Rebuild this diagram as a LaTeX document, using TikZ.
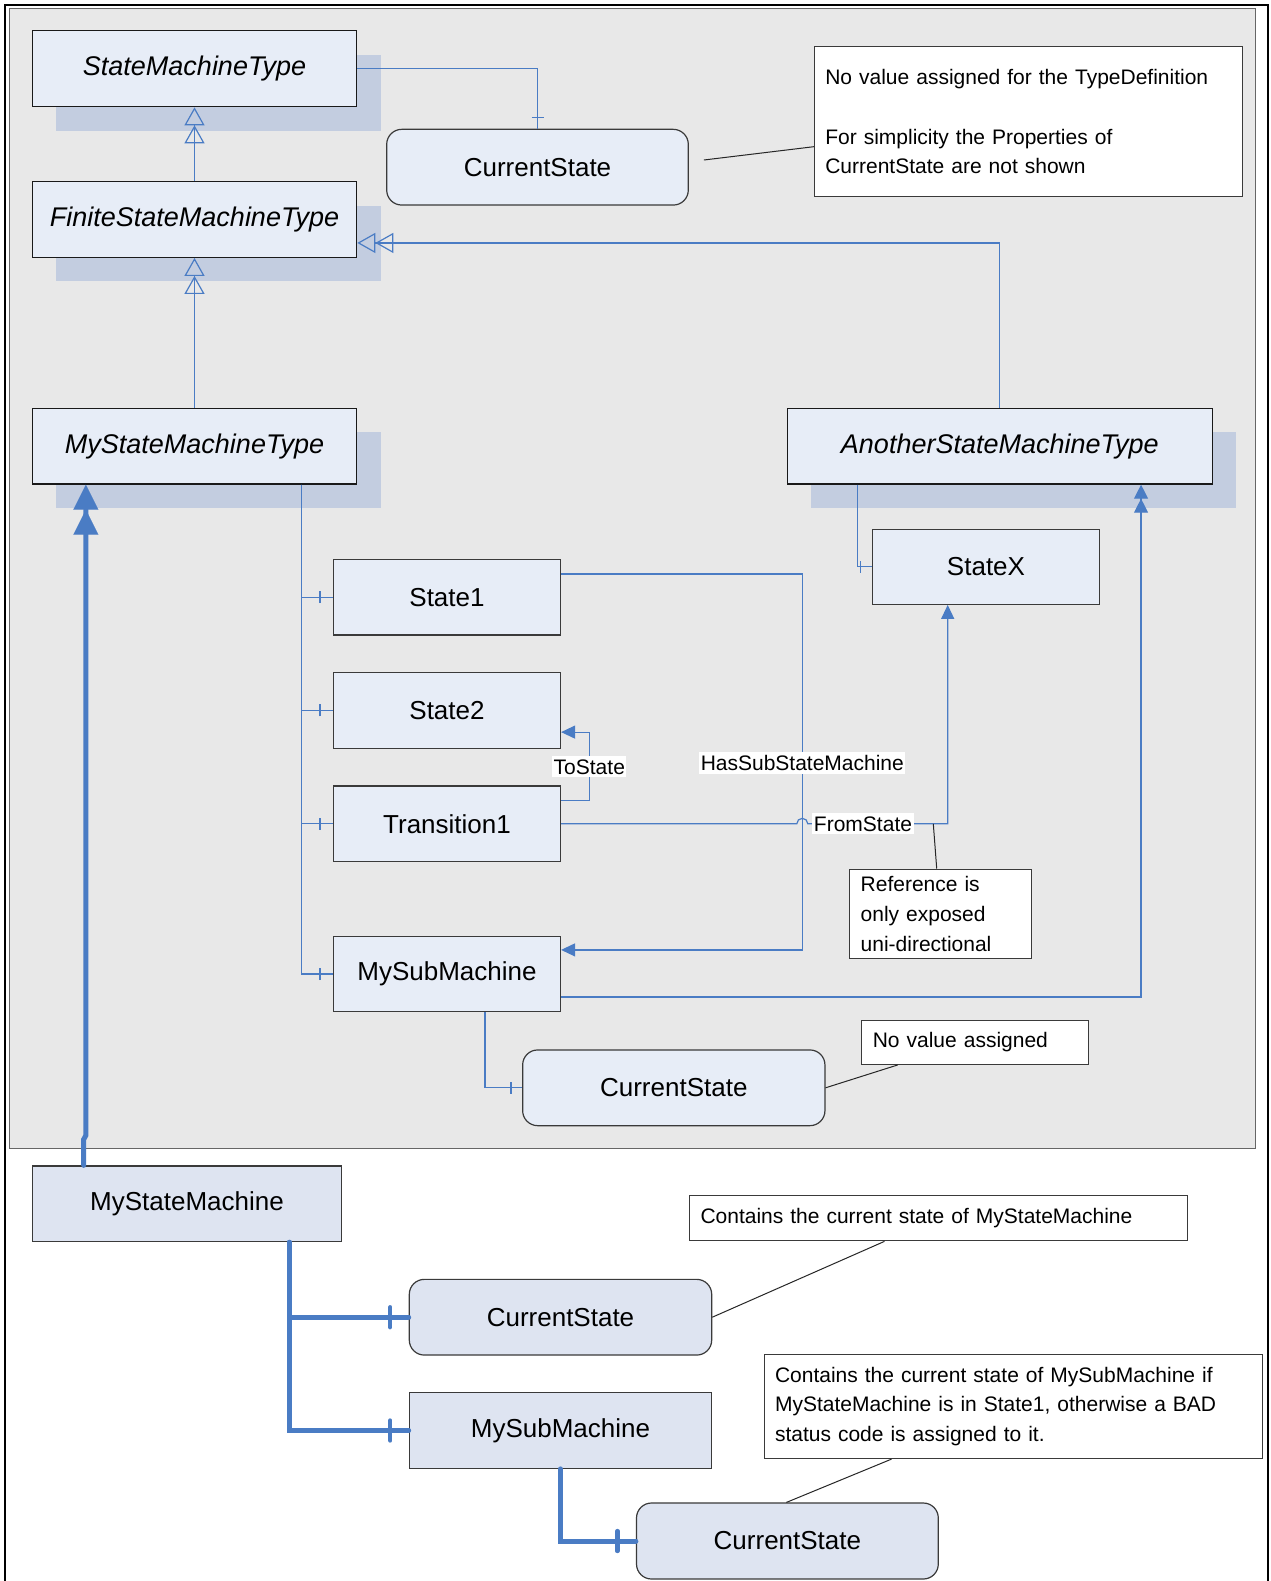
\documentclass[tikz,border=0pt]{standalone}
\usepackage{fontspec}
\setmainfont{Liberation Sans}
\usetikzlibrary{arrows.meta,calc,shadows,decorations.markings}
\definecolor{panel}{HTML}{E8E8E8}
\definecolor{boxfill}{HTML}{E7EDF7}
\definecolor{boxfilltwo}{HTML}{DEE4F1}
\definecolor{shadowc}{HTML}{C3CDE0}
\definecolor{lblue}{HTML}{4A7CC4}
\definecolor{bord}{HTML}{3A3A3A}
\tikzset{
  typebox/.style={draw=black!90, line width=1.3pt, fill=boxfill, inner sep=0pt,
    font=\fontsize{27}{30}\selectfont\itshape,
    general shadow={shadow xshift=24pt, shadow yshift=-24pt, fill=shadowc}},
  plainbox/.style={draw=bord, line width=1.2pt, fill=boxfill, inner sep=0pt,
    font=\fontsize{26}{30}\selectfont},
  roundbox/.style={plainbox, rounded corners=15pt},
  notebox/.style={draw=bord, line width=1pt, fill=white, inner xsep=11pt, inner ysep=0pt,
    align=left, font=\fontsize{21}{29.7}\selectfont},
  lbl/.style={fill=white, inner xsep=1.5pt, inner ysep=3pt, font=\fontsize{21}{25}\selectfont},
  conn/.style={draw=lblue, line width=1.2pt},
  thickconn/.style={draw=lblue, line width=5pt, line cap=round},
  noteline/.style={draw=black!85, line width=1pt},
  inh/.style={conn, -{Triangle[open,length=18pt,width=20pt,sep=0pt]Triangle[open,length=18pt,width=20pt,sep=0pt]}},
  tri/.style={-{Triangle[length=14pt,width=13pt]}},
  dbltri/.style={-{Triangle[length=14pt,width=14pt,sep=0pt]Triangle[length=14pt,width=14pt,sep=0pt]}},
  bigdbltri/.style={-{Triangle[length=25pt,width=25pt,sep=0pt,line width=0.1pt]Triangle[length=25pt,width=25pt,sep=0pt,line width=0.1pt]}},
  tickend/.style={postaction={decorate,decoration={markings,
    mark=at position -#1 with {\draw[lblue,line width=1.2pt,line cap=butt] (0pt,-6pt) -- (0pt,6pt);}}}},
  thicktick/.style={postaction={decorate,decoration={markings,
    mark=at position -#1 with {\draw[lblue,line width=4.3pt,line cap=round] (0pt,-10pt) -- (0pt,10pt);}}}}
}
\begin{document}
\begin{tikzpicture}[x=1pt,y=-1pt]
\useasboundingbox (0,0) rectangle (1270,1581);
% frame and panel
\fill[white] (0,0) rectangle (1270,1581);
\draw[black, line width=2.5pt] (5,1582) -- (5,5) -- (1268,5) -- (1268,1582);
\draw[draw=black!60, fill=panel, line width=1pt] (9.5,8.5) rectangle (1255,1148);

% type boxes
\node[typebox, minimum width=324.4pt, minimum height=76pt] (smt) at (194.5,68.7) {StateMachineType};
\node[typebox, minimum width=324.4pt, minimum height=75.6pt] (fsmt) at (194.5,219.5) {FiniteStateMachineType};
\node[typebox, minimum width=324.4pt, minimum height=75.7pt] (msmt) at (194.5,446.2) {MyStateMachineType};
\node[typebox, minimum width=425pt, minimum height=75.7pt] (asmt) at (999.8,446.2) {AnotherStateMachineType};

% instance declarations
\node[roundbox, minimum width=301.6pt, minimum height=75.7pt] (cs1) at (537.5,167.2) {CurrentState};
\node[plainbox, minimum width=226.6pt, minimum height=75pt] (statex) at (986,566.8) {StateX};
\node[plainbox, minimum width=227pt, minimum height=75.6pt] (state1) at (447,597.2) {State1};
\node[plainbox, minimum width=227pt, minimum height=75.6pt] (state2) at (447,710.3) {State2};
\node[plainbox, minimum width=227pt, minimum height=75.6pt] (trans1) at (447,823.8) {Transition1};
\node[plainbox, minimum width=227pt, minimum height=75.2pt] (msub) at (447,974) {MySubMachine};
\node[roundbox, minimum width=302.3pt, minimum height=75.7pt] (cs2) at (673.8,1087.8) {CurrentState};

% notes
\node[notebox, text width=406pt, minimum width=428pt, minimum height=150pt] (note1) at (1028.3,121.7)
  {No value assigned for the TypeDefinition\\[30pt]For simplicity the Properties of\\CurrentState are not shown};
\node[notebox, text width=204.8pt, minimum width=226.8pt, minimum height=44.4pt] (note2) at (975.2,1042.2) {No value assigned};
\node[notebox, text width=159.5pt, minimum width=181.5pt, minimum height=89.6pt] (note3) at (940.4,913.8)
  {Reference is\\only exposed\\uni-directional};

% bottom instance
\node[plainbox, fill=boxfilltwo, minimum width=309.4pt, minimum height=75.7pt] (msm) at (187,1203.8) {MyStateMachine};
\node[roundbox, fill=boxfilltwo, minimum width=302.4pt, minimum height=75.7pt] (cs3) at (560.5,1317.2) {CurrentState};
\node[plainbox, fill=boxfilltwo, minimum width=302.4pt, minimum height=75.6pt] (msub2) at (560.5,1430.5) {MySubMachine};
\node[roundbox, fill=boxfilltwo, minimum width=301.8pt, minimum height=76pt] (cs4) at (787.4,1541) {CurrentState};
\node[notebox, text width=476pt, minimum width=498pt, minimum height=45.3pt] (note4) at (938.5,1218.2)
  {Contains the current state of MyStateMachine};
\node[notebox, text width=476pt, minimum width=498pt, minimum height=104.6pt] (note5) at (1013,1406.3)
  {Contains the current state of MySubMachine if\\MyStateMachine is in State1, otherwise a BAD\\status code is assigned to it.};

% helper coordinates
\coordinate (bus) at ($(msmt.south west)+(270,0)$);
\coordinate (hsb) at (802.3,763);
\coordinate (tsb) at (589.3,766.8);
\coordinate (hop) at (hsb |- trans1.east);
\coordinate (fsb) at ($(statex.south west)+(75.6,0)$);
\coordinate (fsn) at (933.3,823.8);
\coordinate (tbus) at ($(msm.south west)+(257.7,0)$);

% type hierarchy
\draw[inh] (fsmt.north) -- (smt.south);
\draw[inh] (msmt.north) -- (fsmt.south);
\draw[inh] (asmt.north) |- ($(fsmt.south east)+(0,-15)$);

% components
\draw[conn, tickend=11pt] ($(smt.east)+(0,-0.4)$) -| (cs1.north);
\draw[conn, tickend=13pt] (bus) |- (state1.west);
\draw[conn, tickend=13pt] (bus) |- (state2.west);
\draw[conn, tickend=13pt] (bus) |- (trans1.west);
\draw[conn, tickend=13pt] (bus) |- (msub.west);
\draw[conn, tickend=11.7pt] ($(asmt.south west)+(71,0)$) |- (statex.west);
\draw[conn, tickend=11pt] ($(msub.south west)+(152.1,0)$) |- (cs2.west);

% references
\draw[conn, tri] ($(state1.north east)+(0,15.2)$) -| (hsb) |- ($(msub.north east)+(0,14.1)$);
\draw[conn, tri] ($(trans1.north east)+(0,14.7)$) -| (tsb) |- ($(state2.north east)+(0,60.2)$);
\draw[conn, tri] (trans1.east) -- ($(hop)+(-5.5,0)$) arc[start angle=180, end angle=0, radius=5.5pt]
  -- (fsb |- trans1.east) -- (fsb);
\draw[conn, dbltri] ($(msub.east)+(0,23)$) -| ($(asmt.south west)+(354.4,0)$);

% instance
\draw[thickconn, bigdbltri] ($(msm.north west)+(52,0)$) -- ++(0,-26) -- ++(2.2,-4) -- ($(msmt.south west)+(54.2,0)$);
\draw[thickconn, thicktick=18.5pt] (tbus) |- (cs3.west);
\draw[thickconn, thicktick=18.5pt] (tbus) |- (msub2.west);
\draw[thickconn, thicktick=18.5pt] ($(msub2.south west)+(151.7,0)$) |- (cs4.west);

% note lines
\draw[noteline] ($(cs1.east)+(15,-7.2)$) -- ($(note1.west)+(0,25)$);
\draw[noteline] (fsn) -- (note3.north -| 936.7,0);
\draw[noteline] (cs2.east) -- ($(note2.south west)+(36.5,0)$);
\draw[noteline] (cs3.east) -- ($(note4.south west)+(195.5,0)$);
\draw[noteline] ($(cs4.north west)+(150.5,0)$) -- ($(note5.south west)+(128,0)$);

% labels
\node[lbl] (lhas) at (hsb) {HasSubStateMachine};
\node[lbl] (lto) at (tsb) {ToState};
\node[lbl] (lfrom) at (863,823.8) {FromState};
\end{tikzpicture}
\end{document}
